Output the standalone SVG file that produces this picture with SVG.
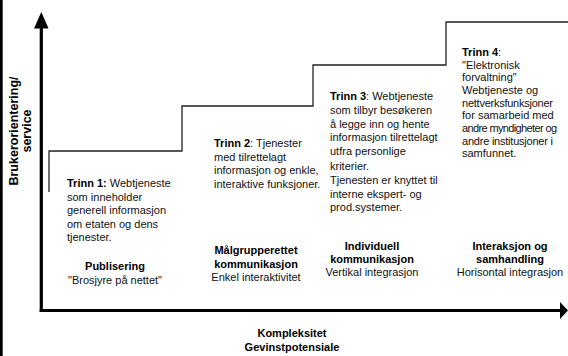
<svg xmlns="http://www.w3.org/2000/svg" width="568" height="356" viewBox="0 0 568 356">
<style>
  text { font-family: "Liberation Sans", Arial, sans-serif; font-size: 11px; fill: #111; }
  .b { font-weight: bold; fill: #000; }
  .c { text-anchor: middle; }
  .y { font-size: 12.5px; }
  .axis { stroke: #000; stroke-width: 3.2; fill: none; }
  .stairs { stroke: #222; stroke-width: 1.3; fill: none; }
</style>
<rect x="0" y="0" width="2.7" height="356" fill="#000"/>
<g id="connectors">
  <polyline class="stairs" points="49,192 49,151 182,151 182,106 313,106 313,65 446,65 446,22 568,22"/>
  <line class="axis" x1="41.3" y1="26" x2="41.3" y2="312"/>
  <polygon points="41.3,12 34,28.5 48.5,28.5" fill="#000"/>
  <line class="axis" x1="39.7" y1="310.5" x2="561" y2="310.5"/>
  <polygon points="568,310.5 560,302 560,319" fill="#000"/>
</g>
<g id="yaxis-label">
  <text class="b c y" transform="translate(18,131) rotate(-90)">Brukerorientering/</text>
  <text class="b c y" transform="translate(31,131) rotate(-90)">service</text>
</g>
<g id="xaxis-label">
  <text class="b c" x="292" y="337">Kompleksitet</text>
  <text class="b c" x="292" y="351">Gevinstpotensiale</text>
</g>
<g id="trinn1">
  <text x="67" y="187"><tspan class="b">Trinn 1:</tspan> Webtjeneste</text>
  <text x="67" y="200.5">som inneholder</text>
  <text x="67" y="214">generell informasjon</text>
  <text x="67" y="227.5">om etaten og dens</text>
  <text x="67" y="241">tjenester.</text>
  <text class="b c" x="115" y="270">Publisering</text>
  <text class="c" x="115" y="284">"Brosjyre på nettet"</text>
</g>
<g id="trinn2">
  <text x="214" y="147"><tspan class="b">Trinn 2</tspan>: Tjenester</text>
  <text x="214" y="160.5">med tilrettelagt</text>
  <text x="214" y="174">informasjon og enkle,</text>
  <text x="214" y="188">interaktive funksjoner.</text>
  <text class="b c" x="256" y="254">Målgrupperettet</text>
  <text class="b c" x="256" y="267.5">kommunikasjon</text>
  <text class="c" x="256" y="281">Enkel interaktivitet</text>
</g>
<g id="trinn3">
  <text x="330" y="100"><tspan class="b">Trinn 3</tspan>: Webtjeneste</text>
  <text x="330" y="114">som tilbyr besøkeren</text>
  <text x="330" y="127.5">å legge inn og hente</text>
  <text x="330" y="141">informasjon tilrettelagt</text>
  <text x="330" y="155">utfra personlige</text>
  <text x="330" y="169.5">kriterier.</text>
  <text x="330" y="183.5">Tjenesten er knyttet til</text>
  <text x="330" y="197.5">interne ekspert- og</text>
  <text x="330" y="211">prod.systemer.</text>
  <text class="b c" x="372" y="249.5">Individuell</text>
  <text class="b c" x="372" y="263">kommunikasjon</text>
  <text class="c" x="372" y="276">Vertikal integrasjon</text>
</g>
<g id="trinn4">
  <text x="462" y="56"><tspan class="b">Trinn 4</tspan>:</text>
  <text x="462" y="68.5">"Elektronisk</text>
  <text x="462" y="81">forvaltning"</text>
  <text x="462" y="94">Webtjeneste og</text>
  <text x="462" y="106.5" textLength="91">nettverksfunksjoner</text>
  <text x="462" y="119">for samarbeid med</text>
  <text x="462" y="132" textLength="95">andre myndigheter og</text>
  <text x="462" y="144.5" textLength="91">andre institusjoner i</text>
  <text x="462" y="157">samfunnet.</text>
  <text class="b c" x="510" y="249.5">Interaksjon og</text>
  <text class="b c" x="510" y="263">samhandling</text>
  <text class="c" x="510" y="276">Horisontal integrasjon</text>
</g>
</svg>
